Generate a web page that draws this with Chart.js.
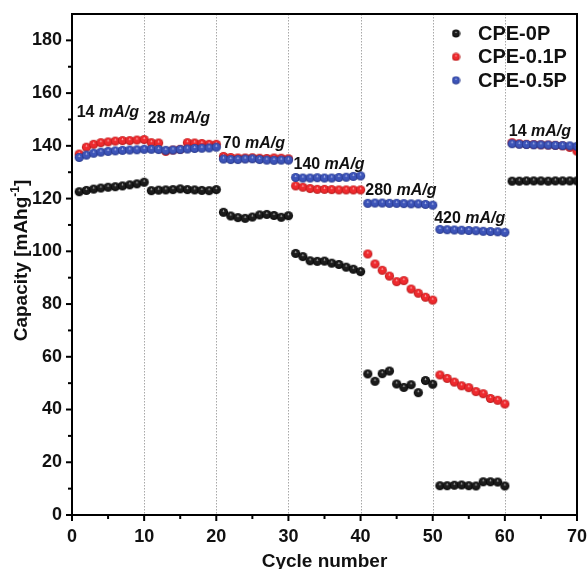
<!DOCTYPE html>
<html><head><meta charset="utf-8">
<script src="https://cdn.jsdelivr.net/npm/chart.js@4/dist/chart.umd.min.js"></script>
<style>html,body{margin:0;padding:0;background:#fff;} canvas{display:block;}</style>
</head><body>
<canvas id="c" width="587" height="569"></canvas>
<script>
// ---------------- data ----------------
const cycles = [1,2,3,4,5,6,7,8,9,10,11,12,13,14,15,16,17,18,19,20,21,22,23,24,25,26,27,28,29,30,
  31,32,33,34,35,36,37,38,39,40,41,42,43,44,45,46,47,48,49,50,51,52,53,54,55,56,57,58,59,60,
  61,62,63,64,65,66,67,68,69,70];
const cpe0P = [122.6,123.1,123.6,124.0,124.3,124.5,124.8,125.2,125.6,126.2,
  123.0,123.2,123.3,123.4,123.7,123.4,123.3,123.1,123.0,123.4,
  114.8,113.4,112.8,112.5,113.0,113.8,114.0,113.6,112.9,113.5,
  99.2,98.0,96.4,96.2,96.3,95.5,95.0,94.0,93.2,92.3,
  53.5,50.7,53.6,54.6,49.7,48.4,49.4,46.4,51.0,49.6,
  11.1,11.1,11.3,11.4,11.1,11.0,12.6,12.6,12.5,11.0,
  126.6,126.6,126.7,126.7,126.7,126.6,126.7,126.7,126.7,126.7];
const cpe01P = [136.9,139.5,140.6,141.2,141.5,141.8,142.0,142.0,142.2,142.4,
  141.2,141.1,137.9,138.4,138.7,141.2,141.1,140.9,140.6,140.6,
  136.0,135.6,135.4,135.4,135.5,135.3,135.2,135.4,135.3,135.1,
  124.8,124.3,123.8,123.5,123.5,123.4,123.3,123.3,123.3,123.3,
  99.0,95.2,92.8,90.6,88.5,88.9,85.7,84.1,82.6,81.5,
  53.1,51.8,50.4,49.0,48.3,46.8,46.0,44.2,43.5,42.1,
  141.2,140.8,140.6,140.5,140.4,140.3,140.2,140.0,139.4,138.0];
const cpe05P = [135.6,136.5,137.2,137.6,137.9,138.1,138.3,138.4,138.5,138.7,
  138.7,138.6,138.3,138.4,138.6,138.8,139.0,139.1,139.2,139.5,
  135.0,134.8,134.8,135.0,135.1,134.8,134.6,134.5,134.6,134.6,
  128.0,127.8,127.8,127.9,127.8,127.8,128.0,128.1,128.4,128.6,
  118.2,118.3,118.3,118.2,118.2,118.1,118.0,118.0,117.8,117.5,
  108.3,108.2,108.1,108.0,107.9,107.8,107.6,107.5,107.4,107.2,
  140.8,140.6,140.5,140.4,140.4,140.3,140.2,140.1,140.0,139.8];
const seriesLabels = ['CPE-0P', 'CPE-0.1P', 'CPE-0.5P'];
const xTickValues = [0,10,20,30,40,50,60,70];
const yTickValues = [0,20,40,60,80,100,120,140,160,180];
const rateValues = ['14','28','70','140','280','420','14'];
const rateUnit = 'mA/g';
const xTitle = 'Cycle number';
const yTitleMain = 'Capacity [mAhg', yTitleSup = '-1', yTitleEnd = ']';

// ---------------- styling / layout ----------------
const FONT = '"Liberation Sans", Arial, Helvetica, sans-serif';
const rateAnchors = [ // data-space anchor (left, vertical middle) of each rate label
  {x:0.65, y:152.6}, {x:10.5, y:150.4}, {x:20.9, y:141.0}, {x:30.7, y:133.0},
  {x:40.65, y:123.0}, {x:50.2, y:112.5}, {x:60.55, y:145.4}];

function sphere(base, dark, hl, r) {
  const s = Math.ceil(r * 2) + 1;
  const c = document.createElement('canvas'); c.width = c.height = s;
  const g = c.getContext('2d'); const cx = s / 2, cy = s / 2;
  const grd = g.createRadialGradient(cx, cy - r * 0.35, 0, cx, cy, r);
  grd.addColorStop(0, hl); grd.addColorStop(0.28, base); grd.addColorStop(0.7, base); grd.addColorStop(1, dark);
  g.fillStyle = grd; g.beginPath(); g.arc(cx, cy, r, 0, Math.PI * 2); g.fill();
  return c;
}
const sBlack = sphere('#1c1c1c', '#000000', '#e8e8e8', 4.6);
const sRed = sphere('#ee2a2e', '#b01616', '#ffe0e0', 4.6);
const sBlue = sphere('#3d54b8', '#213286', '#e0e6ff', 4.6);
const lBlack = sphere('#1c1c1c', '#000000', '#e8e8e8', 4.0);
const lRed = sphere('#ee2a2e', '#b01616', '#ffe0e0', 4.0);
const lBlue = sphere('#3d54b8', '#213286', '#e0e6ff', 4.0);

const toPts = arr => cycles.map((c, i) => ({x: c, y: arr[i]}));

const decor = {
  id: 'decor',
  beforeDatasetsDraw(chart) {
    const {ctx, chartArea: a, scales: {x: xs}} = chart;
    ctx.save();
    ctx.strokeStyle = '#a8a8a8'; ctx.lineWidth = 1; ctx.setLineDash([1.5, 1.5]);
    xTickValues.forEach(v => {
      if (v <= xs.min || v >= xs.max) return;
      const px = Math.round(xs.getPixelForValue(v)) + 0.5;
      ctx.beginPath(); ctx.moveTo(px, a.top); ctx.lineTo(px, a.bottom); ctx.stroke();
    });
    ctx.restore();
  },
  afterDatasetsDraw(chart) {
    const {ctx, chartArea: a, scales: {x: xs, y: ys}} = chart;
    ctx.save();
    ctx.setLineDash([]);
    ctx.strokeStyle = '#000'; ctx.lineWidth = 2;
    for (let i = 0; i < xTickValues.length; i++) {
      const v = xTickValues[i];
      const vals = [v]; if (i < xTickValues.length - 1) vals.push((v + xTickValues[i + 1]) / 2);
      vals.forEach((t, k) => {
        const px = xs.getPixelForValue(t); const len = k === 0 ? 6 : 4;
        ctx.beginPath(); ctx.moveTo(px, a.bottom); ctx.lineTo(px, a.bottom + len); ctx.stroke();
      });
    }
    for (let i = 0; i < yTickValues.length; i++) {
      const v = yTickValues[i];
      const vals = [v]; if (i < yTickValues.length - 1) vals.push((v + yTickValues[i + 1]) / 2);
      vals.forEach((t, k) => {
        const py = ys.getPixelForValue(t); const len = k === 0 ? 6 : 4;
        ctx.beginPath(); ctx.moveTo(a.left - len, py); ctx.lineTo(a.left, py); ctx.stroke();
      });
    }
    ctx.strokeRect(a.left, a.top, a.right - a.left, a.bottom - a.top);

    ctx.fillStyle = '#111'; ctx.textBaseline = 'middle'; ctx.textAlign = 'left';
    rateValues.forEach((r, i) => {
      const px = xs.getPixelForValue(rateAnchors[i].x), py = ys.getPixelForValue(rateAnchors[i].y);
      ctx.font = 'bold 16px ' + FONT;
      const t1 = r + ' ';
      ctx.fillText(t1, px, py);
      const w1 = ctx.measureText(t1).width;
      ctx.font = 'italic bold 16px ' + FONT;
      ctx.fillText(rateUnit, px + w1, py);
    });

    const imgs = [lBlack, lRed, lBlue];
    ctx.font = 'bold 20px ' + FONT; ctx.fillStyle = '#111';
    seriesLabels.forEach((lab, i) => {
      const cy = a.top + 19.5 + i * 23.4;
      const mx = a.right - 121;
      ctx.drawImage(imgs[i], mx - imgs[i].width / 2, cy - imgs[i].height / 2);
      ctx.fillText(lab, a.right - 99, cy + 1);
    });

    ctx.textBaseline = 'alphabetic';
    ctx.font = 'bold 19px ' + FONT; ctx.textAlign = 'center';
    ctx.fillText(xTitle, (a.left + a.right) / 2, 567);
    ctx.translate(27, (a.top + a.bottom) / 2 - 4);
    ctx.rotate(-Math.PI / 2);
    ctx.textAlign = 'left';
    ctx.font = 'bold 19px ' + FONT; const w1 = ctx.measureText(yTitleMain).width;
    ctx.font = 'bold 12px ' + FONT; const w2 = ctx.measureText(yTitleSup).width;
    ctx.font = 'bold 19px ' + FONT; const w3 = ctx.measureText(yTitleEnd).width;
    const s = -(w1 + w2 + w3) / 2;
    ctx.font = 'bold 19px ' + FONT; ctx.fillText(yTitleMain, s, 0);
    ctx.font = 'bold 12px ' + FONT; ctx.fillText(yTitleSup, s + w1, -8);
    ctx.font = 'bold 19px ' + FONT; ctx.fillText(yTitleEnd, s + w1 + w2, 0);
    ctx.restore();
  }
};

new Chart(document.getElementById('c'), {
  type: 'scatter',
  data: {
    datasets: [
      {label: seriesLabels[0], data: toPts(cpe0P), pointStyle: sBlack, pointRadius: 4.6, order: 2},
      {label: seriesLabels[1], data: toPts(cpe01P), pointStyle: sRed, pointRadius: 4.6, order: 1},
      {label: seriesLabels[2], data: toPts(cpe05P), pointStyle: sBlue, pointRadius: 4.6, order: 0}
    ]
  },
  options: {
    responsive: false, animation: false, devicePixelRatio: 1,
    layout: {padding: {left: 0, top: 14, right: 10, bottom: 0}},
    plugins: {legend: {display: false}, tooltip: {enabled: false}},
    scales: {
      x: {
        type: 'linear', min: 0, max: 70,
        afterFit: s => { s.height = 54; s.paddingLeft = 0; s.paddingRight = 0; },
        afterBuildTicks: s => { s.ticks = xTickValues.map(v => ({value: v})); },
        grid: {display: false}, border: {display: false},
        ticks: {font: {family: FONT, size: 18, weight: 'bold'}, color: '#111', padding: 3, maxRotation: 0, autoSkip: false}
      },
      y: {
        type: 'linear', min: 0, max: 190,
        afterFit: s => { s.width = 72; s.paddingTop = 0; s.paddingBottom = 0; },
        afterBuildTicks: s => { s.ticks = yTickValues.map(v => ({value: v})); },
        grid: {display: false}, border: {display: false},
        ticks: {font: {family: FONT, size: 18, weight: 'bold'}, color: '#111', padding: 2, autoSkip: false}
      }
    }
  },
  plugins: [decor]
});
</script>
</body></html>
